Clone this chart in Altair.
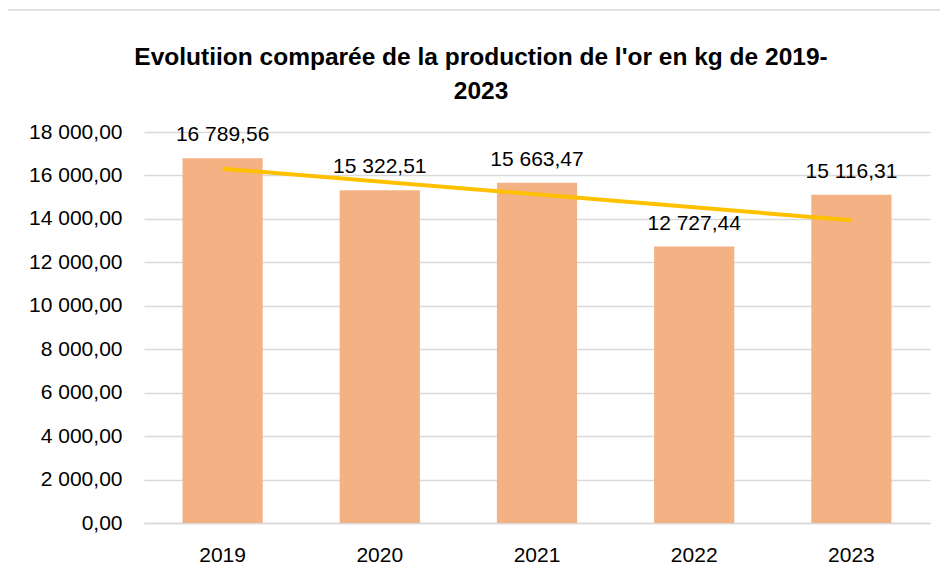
import altair as alt
import pandas as pd

years = [2019, 2020, 2021, 2022, 2023]
production_kg = [16789.56, 15322.51, 15663.47, 12727.44, 15116.31]
y_ticks = [0, 2000, 4000, 6000, 8000, 10000, 12000, 14000, 16000, 18000]

title_lines = ["Evolutiion comparée de la production de l'or en kg de 2019-", "2023"]

df = pd.DataFrame({"year": years, "value": production_kg})

FONT = "Liberation Sans"
BAR = "#F4B183"
TREND = "#FFC000"
GRID = "#D9D9D9"

x_enc = alt.X(
    "year:O",
    scale=alt.Scale(domain=years, paddingInner=0.49, paddingOuter=0.245),
    axis=alt.Axis(
        title=None, labelAngle=0, ticks=False, domainColor=GRID, domainWidth=1.5,
        labelFont=FONT, labelFontSize=21, labelColor="#000000", labelPadding=21,
    ),
)
y_scale = alt.Scale(domain=[0, 18000], nice=False)

base = alt.Chart(df)

border = base.mark_rect(fill=None, stroke=GRID, strokeWidth=1.5).encode(
    x=alt.value(-139), x2=alt.value(800), y=alt.value(-122), y2=alt.value(460)
).transform_filter(alt.datum.year == 2019)

bars = base.mark_bar(color=BAR).encode(
    x=x_enc,
    y=alt.Y(
        "value:Q", scale=y_scale,
        axis=alt.Axis(
            title=None, values=y_ticks, format=",.2f", ticks=False, domain=False,
            grid=True, gridColor=GRID, gridWidth=1.5,
            labelFont=FONT, labelFontSize=21, labelColor="#000000", labelPadding=22,
        ),
    ),
)

labels = base.mark_text(
    font=FONT, fontSize=21, color="#000000", baseline="alphabetic", dy=-17
).encode(
    x=alt.X("year:O", bandPosition=0.5),
    y=alt.Y("value:Q", scale=y_scale),
    text=alt.Text("value:Q", format=",.2f"),
)

trend = base.transform_regression("year", "value", method="linear").mark_line(
    color=TREND, strokeWidth=4
).encode(
    x=alt.X("year:O", bandPosition=0.5),
    y=alt.Y("value:Q", scale=y_scale),
)

chart = alt.layer(border, bars, trend, labels).properties(
    width=786,
    height=391,
    autosize=alt.AutoSizeParams(type="none"),
    padding={"left": 136, "top": 124, "right": 10, "bottom": 49},
    title=alt.TitleParams(
        text=title_lines, font=FONT, fontSize=24.5, fontWeight="bold",
        color="#000000", anchor="middle", frame="group", dx=-56,
        offset=-95, lineHeight=34,
    ),
).configure(
    locale={"number": {"decimal": ",", "thousands": " ", "grouping": [3], "currency": ["", " €"]}}
).configure_view(stroke=None)

chart.save("out.html", embed_options={"renderer": "svg", "actions": False})
